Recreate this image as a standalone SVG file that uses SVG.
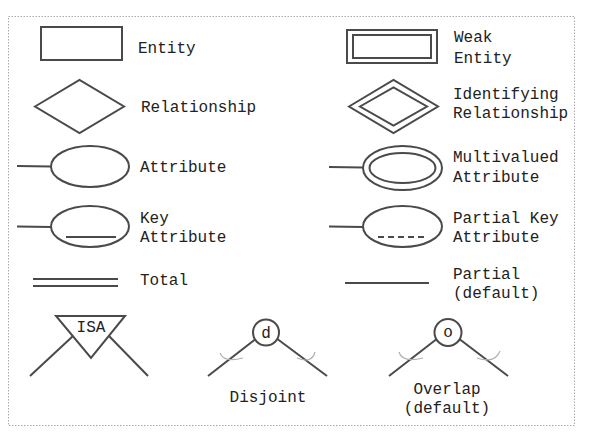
<svg xmlns="http://www.w3.org/2000/svg" width="589" height="436" viewBox="0 0 589 436">
<style>
.s{fill:none;stroke:#4a4a4a;stroke-width:2}
.w{fill:#fff;stroke:#4a4a4a;stroke-width:2}
.a{fill:none;stroke:#b0b0b0;stroke-width:1.2}
text{font-family:"Liberation Mono","Courier New",monospace;font-size:16px;fill:#222}
.m{text-anchor:middle}
</style>
<rect width="589" height="436" fill="#fff"/>
<rect x="8.5" y="16.5" width="566" height="409" fill="none" stroke="#aaa" stroke-width="1" stroke-dasharray="1.5,1.5"/>
<g id="entity">
<rect class="s" x="41" y="27" width="81" height="33"/>
<text x="138" y="53">Entity</text>
</g>
<g id="weak-entity">
<rect class="s" x="347" y="30" width="90" height="33"/>
<rect class="s" x="353" y="35" width="78" height="23"/>
<text x="454" y="42">Weak</text>
<text x="454" y="63">Entity</text>
</g>
<g id="relationship">
<polygon class="s" points="35,106.5 79.5,80 124,106.5 79.5,133"/>
<text x="141" y="112">Relationship</text>
</g>
<g id="identifying-relationship">
<polygon class="s" points="349,106.5 393.5,80 438,106.5 393.5,133"/>
<polygon class="s" points="360,106.5 393.5,87.5 427,106.5 393.5,125.5"/>
<text x="453" y="99">Identifying</text>
<text x="453" y="118">Relationship</text>
</g>
<g id="attribute">
<line class="s" x1="17" y1="166" x2="51" y2="166.5"/>
<ellipse class="s" cx="90" cy="166.5" rx="39" ry="20.5"/>
<text x="140" y="172">Attribute</text>
</g>
<g id="multivalued-attribute">
<line class="s" x1="329" y1="167" x2="363" y2="167.5"/>
<ellipse class="s" cx="402.5" cy="168" rx="39.5" ry="22"/>
<ellipse class="s" cx="402.5" cy="168" rx="33" ry="15"/>
<text x="453" y="162">Multivalued</text>
<text x="453" y="182">Attribute</text>
</g>
<g id="key-attribute">
<line class="s" x1="17" y1="226.5" x2="51" y2="227"/>
<ellipse class="s" cx="90" cy="226.5" rx="39" ry="20.5"/>
<line class="s" x1="66" y1="237" x2="116" y2="237"/>
<text x="140" y="223">Key</text>
<text x="140" y="242">Attribute</text>
</g>
<g id="partial-key-attribute">
<line class="s" x1="329" y1="226.5" x2="363" y2="227"/>
<ellipse class="s" cx="402.5" cy="226.5" rx="39.5" ry="20.5"/>
<line class="s" x1="378" y1="237" x2="428" y2="237" stroke-dasharray="6,4"/>
<text x="453" y="223">Partial Key</text>
<text x="453" y="242">Attribute</text>
</g>
<g id="total">
<line class="s" x1="33" y1="279" x2="118" y2="279"/>
<line class="s" x1="33" y1="286" x2="118" y2="286"/>
<text x="140" y="285">Total</text>
</g>
<g id="partial">
<line class="s" x1="345" y1="283" x2="429" y2="283"/>
<text x="453" y="279">Partial</text>
<text x="453" y="298">(default)</text>
</g>
<g id="isa">
<line class="s" x1="30" y1="376" x2="73" y2="336"/>
<line class="s" x1="109" y1="336" x2="148" y2="376"/>
<polygon class="w" points="56,316 125,316 91,358"/>
<text class="m" x="91" y="332">ISA</text>
</g>
<g id="disjoint">
<line class="s" x1="208" y1="376" x2="257" y2="338"/>
<line class="s" x1="276" y1="338" x2="327" y2="376"/>
<path class="a" d="M220,353 Q224,363 243,358"/>
<path class="a" d="M297,358 Q312,364 315,352"/>
<circle class="w" cx="266" cy="332.5" r="13"/>
<text class="m" x="266" y="338">d</text>
<text class="m" x="268" y="402">Disjoint</text>
</g>
<g id="overlap">
<line class="s" x1="389" y1="376" x2="438" y2="338"/>
<line class="s" x1="458" y1="338" x2="508" y2="376"/>
<path class="a" d="M399,352 Q402,363 423,358"/>
<path class="a" d="M477,358 Q495,364 500,351"/>
<circle class="w" cx="448" cy="332.5" r="13.5"/>
<text class="m" x="448" y="337">o</text>
<text class="m" x="447" y="394">Overlap</text>
<text class="m" x="447" y="413">(default)</text>
</g>
</svg>
